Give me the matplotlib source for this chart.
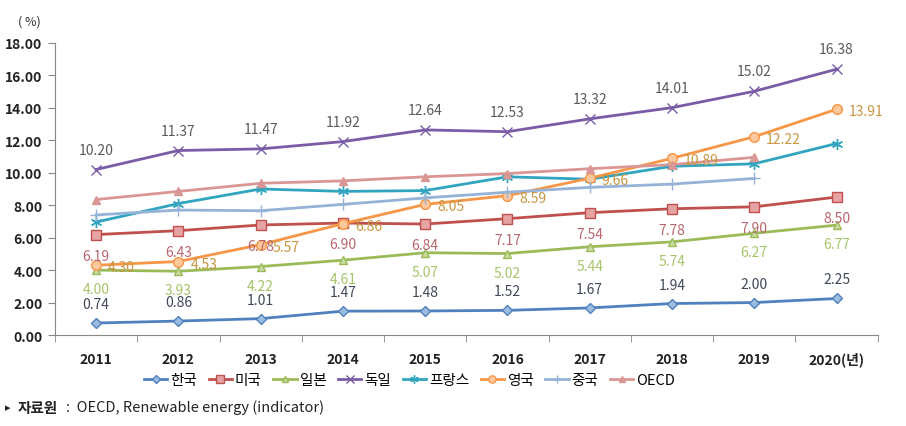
import matplotlib.pyplot as plt

plt.rcParams['font.family'] = ['Noto Sans CJK KR', 'DejaVu Sans']

years = ['2011', '2012', '2013', '2014', '2015', '2016', '2017', '2018', '2019', '2020(년)']

korea = [0.74, 0.86, 1.01, 1.47, 1.48, 1.52, 1.67, 1.94, 2.00, 2.25]
usa = [6.19, 6.43, 6.78, 6.90, 6.84, 7.17, 7.54, 7.78, 7.90, 8.50]
japan = [4.00, 3.93, 4.22, 4.61, 5.07, 5.02, 5.44, 5.74, 6.27, 6.77]
germany = [10.20, 11.37, 11.47, 11.92, 12.64, 12.53, 13.32, 14.01, 15.02, 16.38]
france = [6.96, 8.10, 9.00, 8.85, 8.90, 9.75, 9.60, 10.40, 10.55, 11.80]
uk = [4.30, 4.53, 5.57, 6.86, 8.05, 8.59, 9.66, 10.89, 12.22, 13.91]
china = [7.40, 7.70, 7.66, 8.05, 8.45, 8.80, 9.10, 9.30, 9.65]
oecd = [8.35, 8.85, 9.35, 9.50, 9.75, 9.95, 10.25, 10.50, 10.95]

x = list(range(len(years)))

fig = plt.figure(figsize=(9.06, 4.27), dpi=100)
ax = fig.add_axes([0.0607, 0.2131, 0.908, 0.684])

series = [
    ('한국', korea, '#4f81bd', 'D', '#9dbde0', 5),
    ('미국', usa, '#c0504d', 's', '#e6a3a3', 7),
    ('일본', japan, '#9bbb59', '^', '#c8dca0', 6),
    ('독일', germany, '#7a5ca6', 'x', 'none', 7),
    ('프랑스', france, '#31a5bf', (6, 2, 0), 'none', 8),
    ('영국', uk, '#f79646', 'o', '#fcc89c', 7),
    ('중국', china, '#95b3d7', '+', 'none', 8),
    ('OECD', oecd, '#d99694', '^', '#d99694', 6),
]

for name, vals, color, mk, mfc, ms in series:
    ax.plot(x[:len(vals)], vals, color=color, lw=2, marker=mk, ms=ms,
            mfc=mfc if mfc != 'none' else color, mec=color, mew=1,
            label=name)

# data labels
def labels(vals, color, dx, dy, ha='center'):
    for i, v in enumerate(vals):
        ax.annotate('%.2f' % v, (i, v), xytext=(dx, dy), textcoords='offset pixels',
                    ha=ha, va='center', fontsize=10, color=color, zorder=5)

labels(korea, '#3f4858', 0, 19)
labels(usa, '#b8666e', 0, -21)
labels(japan, '#a5c568', 0, -19)
labels(germany, '#5a5a5a', 0, 20)
labels(uk, '#c99540', 12, -2, ha='left')

ax.set_xlim(-0.5, 9.5)
ax.set_ylim(0, 18)
ax.set_yticks([0, 2, 4, 6, 8, 10, 12, 14, 16, 18])
ax.set_yticklabels(['%.2f' % t for t in ax.get_yticks()], fontsize=10,
                   fontweight='bold', color='#222222')
ax.set_xticks(x)
ax.set_xticklabels(years, fontsize=10, fontweight='bold', color='#222222')
ax.set_xticks([i - 0.5 for i in range(11)], minor=True)
ax.tick_params(axis='x', which='major', length=0, pad=12)
ax.tick_params(axis='x', which='minor', length=5, color='#888888')
ax.tick_params(axis='y', length=5, color='#888888', pad=4)
ax.spines['right'].set_visible(False)
ax.spines['top'].set_visible(False)
ax.spines['left'].set_color('#888888')
ax.spines['bottom'].set_color('#888888')

fig.text(0.02, 0.94, '( %)', fontsize=9, color='#333333')

ax.legend(loc='center', bbox_to_anchor=(0.431, -0.155), ncol=8, frameon=False,
          fontsize=10.5, handlelength=1.6, handletextpad=0.2, columnspacing=0.8,
          markerscale=0.75, borderpad=0)

fig.text(0.006, 0.045, '▸', fontsize=8, color='#222222', va='center')
fig.text(0.02, 0.045, '자료원', fontsize=10.5, fontweight='bold', color='#222222', va='center')
fig.text(0.073, 0.045, ':  OECD, Renewable energy (indicator)', fontsize=10.5,
         color='#222222', va='center')

fig.savefig('out.png', dpi=100)
